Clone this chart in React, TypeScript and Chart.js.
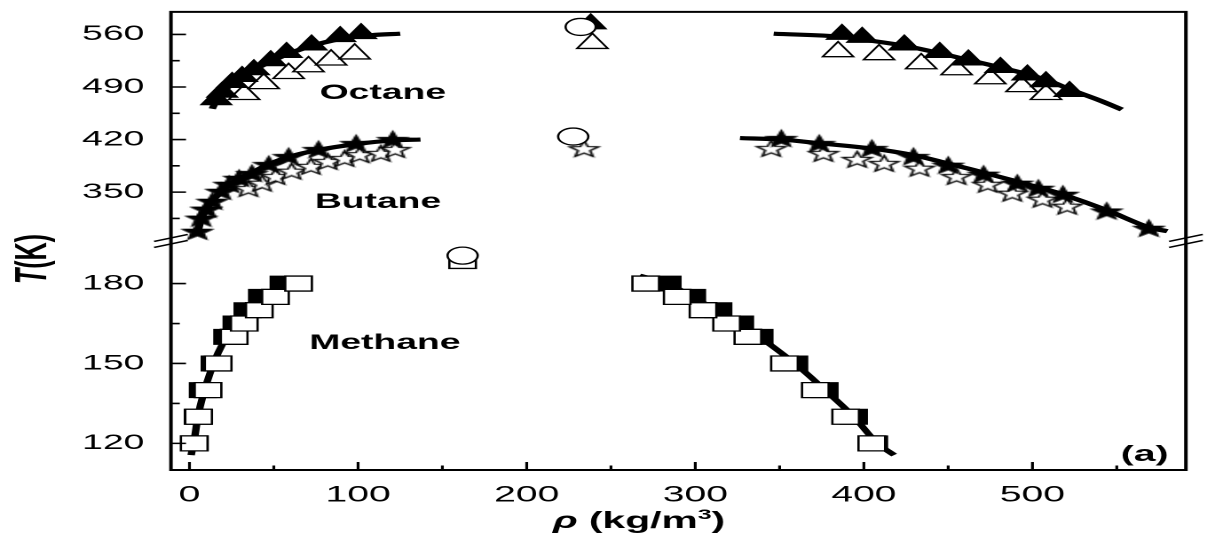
import React, { useEffect, useRef } from "react";
import { Chart, registerables } from "chart.js";

Chart.register(...registerables);

// ---------------- axis ticks ----------------
const xTickValues = [0, 100, 200, 300, 400, 500];
const xMinorTicks = [50, 150, 250, 350, 450, 550];
const upperTickValues = [350, 420, 490, 560];
const upperMinorTicks = [315, 385, 455, 525];
const lowerTickValues = [120, 150, 180];
const lowerMinorTicks = [135, 165];

// ---------------- Octane (upper panel) ----------------
const octaneLineVapRho = [13.5, 16, 20, 25, 32, 40, 50, 62, 76, 92, 108, 125];
const octaneLineVapT = [461, 472, 484, 494, 505, 515, 526, 537, 547, 555, 559, 561];
const octaneLineLiqRho = [346.5, 387, 400, 424, 445, 462, 481, 497, 510, 522, 540, 553];
const octaneLineLiqT = [561, 557, 553, 545, 535, 526, 516, 507, 498, 487, 472, 460];

const octaneFilledVapRho = [15.9, 19.4, 25.3, 31.2, 38.2, 48.2, 57.6, 72.4, 89.4, 101.8];
const octaneFilledVapT = [473, 483, 496, 504, 513, 525, 536, 546, 557, 561];
const octaneFilledLiqRho = [522, 508, 497, 481, 462, 445, 424, 399, 387];
const octaneFilledLiqT = [484, 497, 506, 516, 526, 536, 546, 556, 560];
const octaneFilledCritRho = [238];
const octaneFilledCritT = [574];

const octaneOpenVapRho = [32.4, 44, 58.8, 70.6, 84, 98];
const octaneOpenVapT = [480, 494.5, 508, 517, 526, 534];
const octaneOpenLiqRho = [508, 493.5, 475, 455, 434, 409, 384.7];
const octaneOpenLiqT = [480, 490.5, 501, 513, 521, 533, 537];
const octaneOpenCritRho = [239];
const octaneOpenCritT = [548];

// ---------------- Butane (upper panel) ----------------
const butaneLineVapRho = [5, 7, 10, 13.5, 19, 23.5, 29.5, 37, 47, 59, 76, 99, 121, 137];
const butaneLineVapT = [296, 314, 327, 338, 351, 360, 368, 376, 387, 397, 406, 414, 419, 420];
const butaneLineLiqRho = [326.5, 351, 374, 405, 430, 450, 471, 491, 504, 518, 544, 569, 580];
const butaneLineLiqT = [422, 420, 415, 408, 399, 388, 376, 364, 356, 347, 326, 303, 298];

const butaneFilledVapRho = [4.7, 7, 10, 13.5, 18.8, 23.5, 29.4, 37, 47, 58.8, 76.5, 98.8, 120.6];
const butaneFilledVapT = [298, 315.5, 327.5, 338, 351.3, 360.6, 368.6, 375, 387, 397.7, 407, 415, 420.3];
const butaneFilledLiqRho = [351, 373.5, 404.7, 429.4, 450, 471, 491, 503.5, 518, 544, 569];
const butaneFilledLiqT = [421.6, 415, 408.3, 397.7, 386, 374, 362, 355.3, 347.3, 325, 302];

const butaneOpenVapRho = [35, 43, 51, 60.6, 72, 82, 92, 101, 113.5, 122];
const butaneOpenVapT = [355, 362, 371, 378, 384.5, 391, 395, 400, 401.7, 407];
const butaneOpenLiqRho = [345, 376, 396, 412, 433, 455, 473.5, 488, 506, 520.6];
const butaneOpenLiqT = [408.3, 401.7, 393.8, 388.4, 382, 371, 360.6, 348.7, 340.7, 331.4];
const butaneOpenCritRho = [234];
const butaneOpenCritT = [408];

// ---------------- Methane (lower panel) ----------------
const methaneLineVapRho = [1, 3, 5, 8, 12, 17, 23, 31, 41, 53, 72];
const methaneLineVapT = [115.6, 122, 130, 138, 146, 154, 161, 168, 173.5, 178.5, 182.3];
const methaneLineLiqRho = [267, 284, 298, 313, 326, 338, 359, 377, 394, 408, 418];
const methaneLineLiqT = [183, 180, 175, 170, 165, 160, 150, 140, 130, 120, 115.6];

const methaneT = [120, 130, 140, 150, 160, 165, 170, 175, 180];
const methaneFilledVapRho = [3, 5, 8, 15, 22.5, 28, 34.5, 43.1, 55.9];
const methaneFilledLiqRho = [406, 394, 376.6, 358.6, 338, 326.5, 313.6, 298, 283.5];
const methaneOpenVapRho = [2.8, 5.4, 11, 17, 26.5, 32.5, 41.4, 51, 64.7];
const methaneOpenLiqRho = [404.7, 389.2, 371.2, 352.9, 331.2, 318.6, 304.6, 289.3, 270.6];
const methaneOpenCritRho = [162];
const methaneOpenCritT = [188.5];

// ---------------- experimental critical points (open circles) ----------------
const critUpperRho = [232, 227.6];
const critUpperT = [570, 424];
const critLowerRho = [162];
const critLowerT = [190.5];

// ---------------- labels ----------------
const labelTexts = ["Octane", "Butane", "Methane", "(a)"];
const labelRho = [114.7, 111.8, 115.9, 566.5];
const labelT = [482, 336.7, 157.7, 115.6];
const labelAxis = ["yU", "yU", "yL", "yL"];

const FONT = "'Liberation Sans', Arial, Helvetica, sans-serif";
const CANVAS_W = 680; // drawn narrow, shown stretched to 1207px like the reference
const CANVAS_H = 542;

const pts = (xs: number[], ys: number[]) => xs.map((x, i) => ({ x, y: ys[i] }));

function makeStar(filled: boolean, R: number): HTMLCanvasElement {
  const size = Math.ceil(R * 2 + 4);
  const c = document.createElement("canvas");
  c.width = size;
  c.height = size;
  const ctx = c.getContext("2d")!;
  const cx = size / 2;
  const cy = size / 2 + R * 0.1;
  ctx.beginPath();
  for (let i = 0; i < 10; i++) {
    const r = i % 2 === 0 ? R : R * 0.42;
    const a = -Math.PI / 2 + (i * Math.PI) / 5;
    ctx.lineTo(cx + r * Math.cos(a), cy + r * Math.sin(a));
  }
  ctx.closePath();
  ctx.fillStyle = filled ? "#000" : "#fff";
  ctx.fill();
  ctx.lineWidth = 1.3;
  ctx.strokeStyle = "#000";
  ctx.stroke();
  return c;
}

const zeroPad = (s: any) => {
  s.paddingTop = 0;
  s.paddingBottom = 0;
  s.paddingLeft = 0;
  s.paddingRight = 0;
};

const decorPlugin = {
  id: "decor",
  afterDraw(chart: any) {
    const { ctx, chartArea: a, scales } = chart;
    const xs = scales.x;
    const yU = scales.yU;
    const yL = scales.yL;
    ctx.save();
    ctx.strokeStyle = "#000";
    ctx.fillStyle = "#000";

    // frame
    ctx.lineWidth = 2;
    ctx.beginPath();
    ctx.rect(a.left, a.top, a.right - a.left, a.bottom - a.top);
    ctx.stroke();

    // inward ticks
    ctx.lineWidth = 1.6;
    ctx.beginPath();
    const yTick = (s: any, v: number, len: number) => {
      const py = s.getPixelForValue(v);
      ctx.moveTo(a.left, py);
      ctx.lineTo(a.left + len, py);
    };
    upperTickValues.forEach((v) => yTick(yU, v, 8.5));
    upperMinorTicks.forEach((v) => yTick(yU, v, 5));
    lowerTickValues.forEach((v) => yTick(yL, v, 8.5));
    lowerMinorTicks.forEach((v) => yTick(yL, v, 5));
    const xTick = (v: number, len: number) => {
      const px = xs.getPixelForValue(v);
      ctx.moveTo(px, a.bottom);
      ctx.lineTo(px, a.bottom - len);
    };
    xTickValues.forEach((v) => xTick(v, 8));
    xMinorTicks.forEach((v) => xTick(v, 4.5));
    ctx.stroke();

    // axis breaks
    const brk = (cx: number, cy: number) => {
      ctx.lineWidth = 1.5;
      for (const off of [-3, 3]) {
        ctx.beginPath();
        ctx.moveTo(cx - 9.5, cy + off + 3.5);
        ctx.lineTo(cx + 9.5, cy + off - 3.5);
        ctx.stroke();
      }
    };
    brk(a.left, yU.bottom);
    brk(a.right, yU.bottom);

    // annotations
    ctx.textAlign = "center";
    ctx.textBaseline = "middle";
    labelTexts.forEach((t, i) => {
      const s = labelAxis[i] === "yU" ? yU : yL;
      ctx.font = `bold ${t === "(a)" ? 22 : 21}px ${FONT}`;
      ctx.fillText(t, xs.getPixelForValue(labelRho[i]), s.getPixelForValue(labelT[i]));
    });

    // y title: T(K)
    ctx.save();
    ctx.translate(19, 259);
    ctx.rotate(-Math.PI / 2);
    ctx.textAlign = "left";
    ctx.textBaseline = "middle";
    const fT = `italic bold 25px ${FONT}`;
    const fK = `bold 25px ${FONT}`;
    ctx.font = fT;
    const wT = ctx.measureText("T").width;
    ctx.font = fK;
    const wK = ctx.measureText("(K)").width;
    const x0 = -(wT + wK) / 2;
    ctx.font = fT;
    ctx.fillText("T", x0, 0);
    ctx.font = fK;
    ctx.fillText("(K)", x0 + wT, 0);
    ctx.restore();

    // x title: ρ (kg/m3)
    const fRho = `italic bold 23px ${FONT}`;
    const fMain = `bold 23px ${FONT}`;
    const fSup = `bold 14px ${FONT}`;
    ctx.textAlign = "left";
    ctx.textBaseline = "alphabetic";
    ctx.font = fRho;
    const w1 = ctx.measureText("\u03c1").width;
    ctx.font = fMain;
    const w2 = ctx.measureText(" (kg/m").width;
    ctx.font = fSup;
    const w3 = ctx.measureText("3").width;
    ctx.font = fMain;
    const w4 = ctx.measureText(")").width;
    const total = w1 + w2 + w3 + w4;
    const cx = 360;
    const base = 528;
    let px = cx - total / 2;
    ctx.font = fRho;
    ctx.fillText("\u03c1", px, base);
    px += w1;
    ctx.font = fMain;
    ctx.fillText(" (kg/m", px, base);
    px += w2;
    ctx.font = fSup;
    ctx.fillText("3", px, base - 9);
    px += w3;
    ctx.font = fMain;
    ctx.fillText(")", px, base);

    ctx.restore();
  },
};

export default function App() {
  const ref = useRef<HTMLCanvasElement | null>(null);

  useEffect(() => {
    if (!ref.current) return;
    const starFilled = makeStar(true, 8.5);
    const starOpen = makeStar(false, 8.5);

    const filled = { backgroundColor: "#000", borderColor: "#000", borderWidth: 1, showLine: false, clip: false as any };
    const open = { backgroundColor: "#fff", borderColor: "#000", borderWidth: 1.3, showLine: false, clip: false as any };
    const curve = {
      showLine: true,
      pointRadius: 0,
      borderColor: "#000",
      backgroundColor: "#000",
      borderWidth: 4.2,
      tension: 0.35,
      clip: false as any,
    };

    const datasets: any[] = [
      // experimental critical points
      { label: "crit U", data: pts(critUpperRho, critUpperT), yAxisID: "yU", pointStyle: "circle", pointRadius: 8.5, order: 0, ...open },
      { label: "crit L", data: pts(critLowerRho, critLowerT), yAxisID: "yL", pointStyle: "circle", pointRadius: 8.5, order: 0, ...open },

      // methane
      { label: "Methane open", data: [...pts(methaneOpenVapRho, methaneT), ...pts(methaneOpenLiqRho, methaneT), ...pts(methaneOpenCritRho, methaneOpenCritT)], yAxisID: "yL", pointStyle: "rect", pointRadius: 10.6, order: 1, ...open },
      { label: "Methane filled", data: [...pts(methaneFilledVapRho, methaneT), ...pts(methaneFilledLiqRho, methaneT)], yAxisID: "yL", pointStyle: "rect", pointRadius: 10.6, order: 2, ...filled },
      { label: "Methane exp L", data: pts(methaneLineVapRho, methaneLineVapT), yAxisID: "yL", order: 3, ...curve },
      { label: "Methane exp R", data: pts(methaneLineLiqRho, methaneLineLiqT), yAxisID: "yL", order: 3, ...curve },

      // octane
      { label: "Octane filled", data: [...pts(octaneFilledVapRho, octaneFilledVapT), ...pts(octaneFilledLiqRho, octaneFilledLiqT), ...pts(octaneFilledCritRho, octaneFilledCritT)], yAxisID: "yU", pointStyle: "triangle", pointRadius: 10, order: 1, ...filled },
      { label: "Octane exp L", data: pts(octaneLineVapRho, octaneLineVapT), yAxisID: "yU", order: 2, ...curve },
      { label: "Octane exp R", data: pts(octaneLineLiqRho, octaneLineLiqT), yAxisID: "yU", order: 2, ...curve },
      { label: "Octane open", data: [...pts(octaneOpenVapRho, octaneOpenVapT), ...pts(octaneOpenLiqRho, octaneOpenLiqT), ...pts(octaneOpenCritRho, octaneOpenCritT)], yAxisID: "yU", pointStyle: "triangle", pointRadius: 10, order: 3, ...open },

      // butane
      { label: "Butane filled", data: [...pts(butaneFilledVapRho, butaneFilledVapT), ...pts(butaneFilledLiqRho, butaneFilledLiqT)], yAxisID: "yU", pointStyle: starFilled, order: 1, ...filled },
      { label: "Butane exp L", data: pts(butaneLineVapRho, butaneLineVapT), yAxisID: "yU", order: 2, ...curve },
      { label: "Butane exp R", data: pts(butaneLineLiqRho, butaneLineLiqT), yAxisID: "yU", order: 2, ...curve },
      { label: "Butane open", data: [...pts(butaneOpenVapRho, butaneOpenVapT), ...pts(butaneOpenLiqRho, butaneOpenLiqT), ...pts(butaneOpenCritRho, butaneOpenCritT)], yAxisID: "yU", pointStyle: starOpen, order: 3, ...open },
    ];

    const yCommon = {
      type: "linear",
      position: "left",
      stack: "T",
      stackWeight: 1,
      grid: { display: false, drawTicks: false },
      border: { display: false },
      ticks: { font: { family: FONT, size: 21 }, color: "#000", padding: 15 },
      afterFit: (s: any) => {
        s.width = 96.3;
        zeroPad(s);
      },
    };

    const chart = new Chart(ref.current, {
      type: "scatter",
      data: { datasets },
      options: {
        responsive: false,
        maintainAspectRatio: false,
        devicePixelRatio: 2,
        animation: false,
        events: [],
        layout: { padding: { top: 10, right: 6.8, left: 0, bottom: 0 } },
        plugins: { legend: { display: false }, tooltip: { enabled: false }, title: { display: false } },
        scales: {
          x: {
            type: "linear",
            position: "bottom",
            min: -11,
            max: 591,
            grid: { display: false, drawTicks: false },
            border: { display: false },
            ticks: { font: { family: FONT, size: 22 }, color: "#000", padding: 12, autoSkip: false, maxRotation: 0 },
            afterBuildTicks: (s: any) => {
              s.ticks = xTickValues.map((v) => ({ value: v }));
            },
            afterFit: (s: any) => {
              s.height = 72;
              zeroPad(s);
            },
          },
          yU: {
            ...yCommon,
            weight: 2,
            min: 285,
            max: 590,
            afterBuildTicks: (s: any) => {
              s.ticks = upperTickValues.map((v) => ({ value: v }));
            },
          },
          yL: {
            ...yCommon,
            weight: 1,
            min: 110,
            max: 196,
            afterBuildTicks: (s: any) => {
              s.ticks = lowerTickValues.map((v) => ({ value: v }));
            },
          },
        } as any,
      },
      plugins: [decorPlugin],
    } as any);

    return () => chart.destroy();
  }, []);

  return (
    <div style={{ position: "fixed", left: 0, top: 0, width: 1207, height: 542, background: "#fff" }}>
      <canvas
        ref={ref}
        width={CANVAS_W}
        height={CANVAS_H}
        style={{ width: "1207px", height: "542px", display: "block" }}
      />
    </div>
  );
}
